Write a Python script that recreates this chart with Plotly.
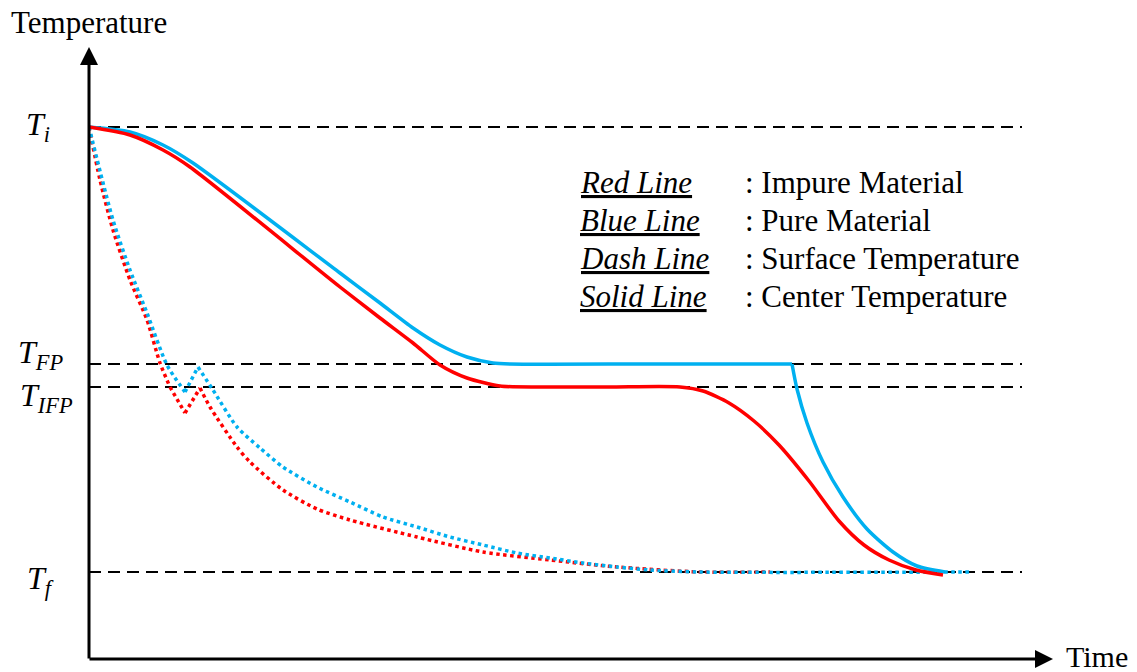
import plotly.graph_objects as go

# Reference temperature levels (arbitrary units)
T_I = 532
T_FP = 295
T_IFP = 272
T_F = 87
REF_END = 933
X_MAX = 964
Y_MAX = 612

# Center temperature, impure material (red solid)
red_center_t = [0, 41, 74, 101, 251, 291, 324, 351, 378, 411, 451, 520, 591, 614, 640,
                665, 690, 720, 750, 775, 800, 827, 854]
red_center_T = [532, 524, 509, 492, 372, 341, 316, 294, 281, 273, 272, 272, 272, 268, 256,
                238, 214, 178, 138, 114, 99, 89, 84]

# Center temperature, pure material (blue solid)
blue_center_t = [0, 41, 74, 104, 251, 291, 324, 351, 378, 404, 421, 560, 703]
blue_center_T = [532, 527, 514, 496, 386, 356, 331, 314, 302, 296, 295, 295, 295]
blue_drop_t = [703, 708, 718, 734, 754, 778, 804, 828, 856]
blue_drop_T = [295, 270, 236, 197, 162, 130, 107, 93, 87]

# Surface temperature, impure material (red dotted)
red_surface_t = [0, 11, 24, 41, 58, 71, 81, 96, 111, 121, 148, 161, 194, 228, 261, 328,
                 394, 461, 528, 611, 681]
red_surface_T = [532, 479, 429, 379, 339, 296, 272, 246, 271, 252, 212, 197, 169, 150, 139,
                 122, 107, 99, 92, 87, 87]

# Surface temperature, pure material (blue dotted)
blue_surface_t = [0, 24, 41, 58, 78, 96, 109, 124, 148, 171, 194, 228, 261, 294, 328, 361,
                  394, 428, 461, 494, 528, 561, 611, 881]
blue_surface_T = [532, 439, 389, 346, 294, 267, 292, 269, 232, 211, 192, 172, 157, 142, 132,
                  122, 114, 106, 101, 96, 92, 89, 87, 87]

level_labels = ["<i>T<sub>i</sub></i>", "<i>T<sub>FP</sub></i>",
                "<i>T<sub>IFP</sub></i>", "<i>T<sub>f</sub></i>"]
level_values = [T_I, T_FP, T_IFP, T_F]

legend_keys = ["Red Line", "Blue Line", "Dash Line", "Solid Line"]
legend_desc = [": Impure Material", ": Pure Material",
               ": Surface Temperature", ": Center Temperature"]

RED = "#FF0000"
BLUE = "#00B0F0"
SERIF = "Liberation Serif, Times New Roman, serif"

fig = go.Figure()

# Horizontal dashed reference levels
for lv in level_values:
    fig.add_trace(go.Scatter(x=[0, REF_END], y=[lv, lv], mode="lines",
                             line=dict(color="black", width=1.8, dash="12px,7px"),
                             hoverinfo="skip", showlegend=False))

def curve(x, y, color, dash, shape="spline"):
    fig.add_trace(go.Scatter(x=x, y=y, mode="lines",
                             line=dict(color=color, width=3.5, dash=dash,
                                       shape=shape, smoothing=0.7),
                             cliponaxis=False, hoverinfo="skip", showlegend=False))

curve(red_surface_t[:7], red_surface_T[:7], RED, "dot")
curve(red_surface_t[6:8], red_surface_T[6:8], RED, "dot", "linear")
curve(red_surface_t[7:9], red_surface_T[7:9], RED, "dot", "linear")
curve(red_surface_t[8:], red_surface_T[8:], RED, "dot")
curve(blue_surface_t[:6], blue_surface_T[:6], BLUE, "dot")
curve(blue_surface_t[5:7], blue_surface_T[5:7], BLUE, "dot", "linear")
curve(blue_surface_t[6:], blue_surface_T[6:], BLUE, "dot")
curve(blue_center_t, blue_center_T, BLUE, "solid")
curve(blue_drop_t, blue_drop_T, BLUE, "solid")
curve(red_center_t, red_center_T, RED, "solid")


def px(v):
    return v / X_MAX


def py(v):
    return v / Y_MAX


annotations = []
# Axis arrows
annotations.append(dict(x=0, y=Y_MAX, ax=0, ay=-1, xref="x", yref="y", axref="x", ayref="y",
                        showarrow=True, arrowhead=2, arrowsize=1.2, arrowwidth=3,
                        arrowcolor="black", text=""))
annotations.append(dict(x=X_MAX, y=0, ax=-1, ay=0, xref="x", yref="y", axref="x", ayref="y",
                        showarrow=True, arrowhead=2, arrowsize=1.2, arrowwidth=3,
                        arrowcolor="black", text=""))
annotations.append(dict(x=px(-80), y=py(636), xref="paper", yref="paper", text="Temperature",
                        showarrow=False, xanchor="left", yanchor="middle",
                        font=dict(family=SERIF, size=31, color="black")))
annotations.append(dict(x=px(975), y=py(3), xref="paper", yref="paper", text="Time",
                        showarrow=False, xanchor="left", yanchor="middle",
                        font=dict(family=SERIF, size=30, color="black")))

# Level labels on the temperature axis
label_x = [-51, -49, -43, -49]
label_dy = [0, 10, -10, -8]
for txt, lv, lx, dy in zip(level_labels, level_values, label_x, label_dy):
    annotations.append(dict(x=px(lx), y=py(lv + dy), xref="paper", yref="paper", text=txt,
                            showarrow=False, xanchor="center", yanchor="middle",
                            font=dict(family=SERIF, size=32, color="black")))

# Key describing line colours and styles
for i, (k, d) in enumerate(zip(legend_keys, legend_desc)):
    yy = 477 - 38 * i
    annotations.append(dict(x=px(489), y=py(yy), xref="paper", yref="paper",
                            text=f"<i><u>{k}</u></i>",
                            showarrow=False, xanchor="left", yanchor="middle",
                            font=dict(family=SERIF, size=31, color="black")))
    annotations.append(dict(x=px(654), y=py(yy), xref="paper", yref="paper", text=d,
                            showarrow=False, xanchor="left", yanchor="middle",
                            font=dict(family=SERIF, size=31, color="black")))

fig.update_layout(
    width=1137, height=672,
    margin=dict(l=89, r=84, t=47, b=13),
    paper_bgcolor="white", plot_bgcolor="white",
    xaxis=dict(range=[0, X_MAX], visible=False, fixedrange=True),
    yaxis=dict(range=[0, Y_MAX], visible=False, fixedrange=True),
    annotations=annotations,
    showlegend=False,
)

fig.write_html("out.html")
